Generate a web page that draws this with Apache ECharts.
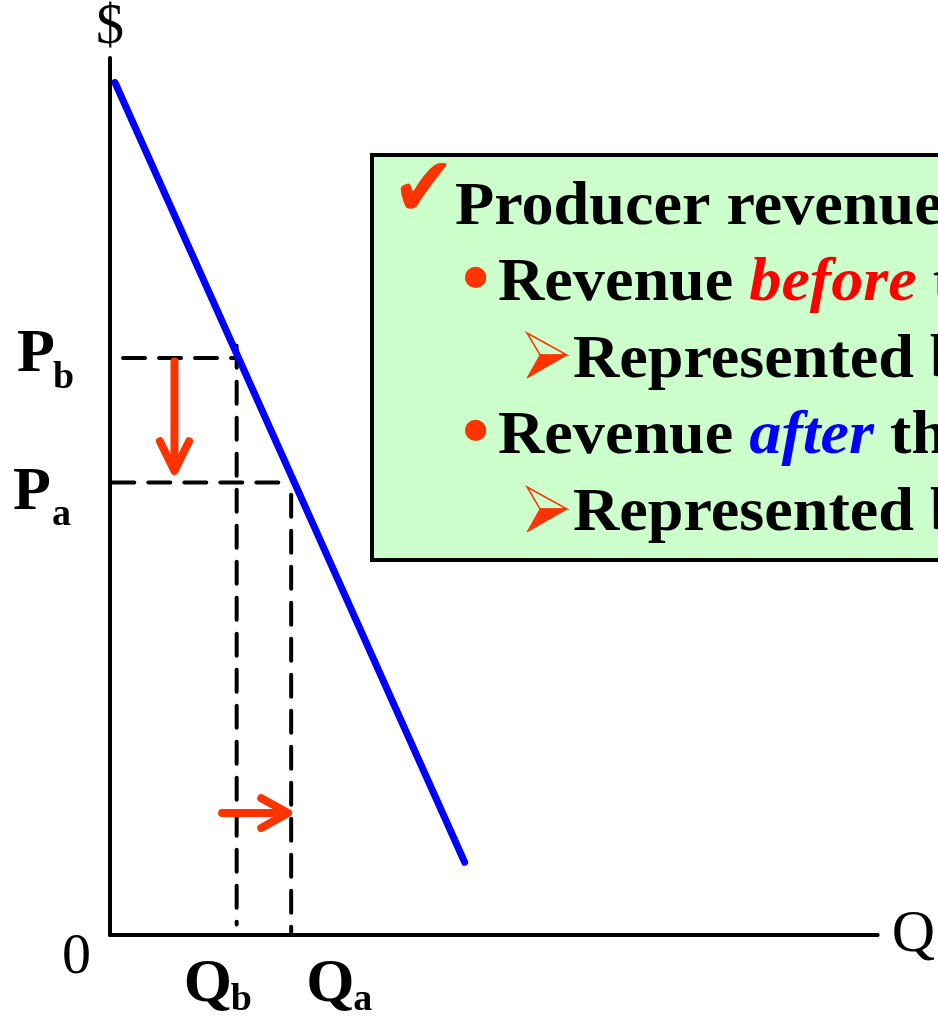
<!DOCTYPE html>
<html>
<head>
<meta charset="utf-8">
<script src="https://cdn.jsdelivr.net/npm/echarts@6/dist/echarts.min.js"></script>
<style>
  html, body { margin: 0; padding: 0; background: #fff; }
  #chart { width: 938px; height: 1018px; }
</style>
</head>
<body>
<div id="chart"></div>
<script>
// values in axis units (0..100 on both axes)
var demandLine = [[0.65, 97.2], [46.2, 8.3]];
var qb = 16.5, qa = 23.6;
var pb = 65.8, pa = 51.6;

var pbGuide = [[1.7, pb], [qb, pb]];
var paGuide = [[0.3, pa], [qa, pa]];
var qbGuide = [[qb, 67.2], [qb, 1.2]];
var qaGuide = [[qa, 50.2], [qa, 0.3]];

var priceArrowShaft = [[8.4, 65.4], [8.4, 53.4]];
var priceArrowHead = [[6.5, 56.3], [8.4, 52.9], [10.3, 56.3]];
var qtyArrowShaft = [[14.6, 13.9], [22.8, 13.9]];
var qtyArrowHead = [[19.7, 15.6], [23.2, 13.9], [19.7, 12.2]];

var SERIF = '"Liberation Serif", "Times New Roman", serif';
var RED = '#ff3300';

var myChart = echarts.init(document.getElementById('chart'));

function seg (data, color, width, type) {
  return {
    type: 'line',
    data: data,
    symbol: 'none',
    silent: true,
    lineStyle: { color: color, width: width, type: type || 'solid', cap: 'round', join: 'round' }
  };
}

var option = {
  animation: false,
  grid: { left: 110, right: 53, top: 53, bottom: 83 },
  xAxis: {
    type: 'value', min: 0, max: 100,
    name: 'Q', nameLocation: 'end', nameGap: 14,
    nameTextStyle: { fontFamily: SERIF, fontSize: 60, color: '#000', verticalAlign: 'middle' },
    axisLine: { lineStyle: { color: '#000', width: 4 } },
    axisTick: { show: false }, axisLabel: { show: false }, splitLine: { show: false }
  },
  yAxis: {
    type: 'value', min: 0, max: 100,
    name: '$', nameLocation: 'end', nameGap: 2,
    nameTextStyle: { fontFamily: SERIF, fontSize: 56, color: '#000', align: 'center' },
    axisLine: { lineStyle: { color: '#000', width: 4 } },
    axisTick: { show: false }, axisLabel: { show: false }, splitLine: { show: false }
  },
  series: [
    seg(pbGuide, '#000', 4, [22, 14]),
    seg(paGuide, '#000', 4, [22, 14]),
    seg(qbGuide, '#000', 4, [22, 14]),
    seg(qaGuide, '#000', 4, [22, 14]),
    seg(demandLine, '#0000ff', 7),
    seg(priceArrowShaft, RED, 8),
    seg(priceArrowHead, RED, 8),
    seg(qtyArrowShaft, RED, 8),
    seg(qtyArrowHead, RED, 8)
  ]
};
myChart.setOption(option);

// text with its baseline at y
function txt (x, baseline, str, size, extra, sx) {
  var st = {
    text: str, x: 0, y: 0,
    fontFamily: SERIF, fontSize: size, fontWeight: 'bold',
    fill: '#000', textAlign: 'left', textVerticalAlign: 'middle'
  };
  for (var k in extra) st[k] = extra[k];
  return { type: 'text', x: x, y: baseline - 0.29 * size, scaleX: sx || 1, z: 20, style: st };
}

// hollow-top arrowhead bullet
function arrowBullet (x, y) {
  return [
    { type: 'polygon', z: 20, shape: { points: [[x, y], [x + 40, y + 22], [x + 13, y + 22]] },
      style: { fill: 'none', stroke: RED, lineWidth: 1.5 } },
    { type: 'polygon', z: 20, shape: { points: [[x + 13, y + 22], [x + 40, y + 22], [x, y + 45]] },
      style: { fill: RED, stroke: RED, lineWidth: 1 } }
  ];
}

var o = myChart.convertToPixel({ gridIndex: 0 }, [0, 0]);
var pPb = myChart.convertToPixel({ gridIndex: 0 }, [0, pb]);
var pPa = myChart.convertToPixel({ gridIndex: 0 }, [0, pa]);
var pQb = myChart.convertToPixel({ gridIndex: 0 }, [qb, 0]);
var pQa = myChart.convertToPixel({ gridIndex: 0 }, [qa, 0]);

var rich = {
  n: { fontFamily: SERIF, fontSize: 62, fontWeight: 'bold', fill: '#000' },
  r: { fontFamily: SERIF, fontSize: 62, fontWeight: 'bold', fontStyle: 'italic', fill: '#ff0000' },
  b: { fontFamily: SERIF, fontSize: 62, fontWeight: 'bold', fontStyle: 'italic', fill: '#0000ff' }
};
var SX = 1.035;

var graphics = [
  txt(o[0] - 48, o[1] + 40, '0', 58, { fontWeight: 'normal' }),
  txt(pPb[0] - 93, pPb[1] + 15, 'P', 62),
  txt(pPb[0] - 57, pPb[1] + 31, 'b', 38),
  txt(pPa[0] - 97, pPa[1] + 28, 'P', 62),
  txt(pPa[0] - 58, pPa[1] + 44, 'a', 38),
  txt(pQb[0] - 53, pQb[1] + 68, 'Q', 62),
  txt(pQb[0] - 6, pQb[1] + 76, 'b', 38),
  txt(pQa[0] + 15, pQa[1] + 68, 'Q', 62),
  txt(pQa[0] + 62, pQa[1] + 76, 'a', 38),
  {
    type: 'rect', z: 10,
    shape: { x: 372, y: 155, width: 640, height: 405 },
    style: { fill: '#ccffcc', stroke: '#000', lineWidth: 4 }
  },
  txt(392, 219, '\u2714', 84, { fontFamily: 'DejaVu Sans', fontWeight: 'normal', fill: RED }, 0.9),
  txt(455, 226, 'Producer revenue', 62, {}, SX),
  txt(462, 305, '\u2022', 78, { fill: RED }),
  { type: 'text', x: 498, y: 302 - 18, scaleX: SX, z: 20,
    style: { text: '{n|Revenue }{r|before}{n| t}', rich: rich, textVerticalAlign: 'middle' } },
  txt(573, 379, 'Represented b', 62, {}, SX),
  txt(462, 458, '\u2022', 78, { fill: RED }),
  { type: 'text', x: 498, y: 455 - 18, scaleX: SX, z: 20,
    style: { text: '{n|Revenue }{b|after}{n| th}', rich: rich, textVerticalAlign: 'middle' } },
  txt(573, 532, 'Represented b', 62, {}, SX)
].concat(arrowBullet(527, 333), arrowBullet(527, 487));

myChart.setOption({ graphic: graphics });
</script>
</body>
</html>
